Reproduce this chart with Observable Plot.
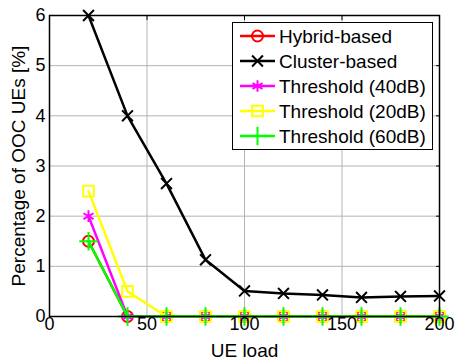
<!DOCTYPE html>
<html>
<head>
<meta charset="utf-8">
<script src="https://cdn.jsdelivr.net/npm/d3@7"></script>
<script src="https://cdn.jsdelivr.net/npm/@observablehq/plot@0.6"></script>
<style>
  body { margin: 0; background: #fff; }
  #wrap { position: relative; width: 455px; height: 360px; font-family: "Liberation Sans", Arial, sans-serif; }
  #legend { position: absolute; left: 232px; top: 22px; }
</style>
</head>
<body>
<div id="wrap"></div>
<script>
const ueLoad = [20, 40, 60, 80, 100, 120, 140, 160, 180, 200];
const hybrid = [1.5, 0, 0, 0, 0, 0, 0, 0, 0, 0];
const cluster = [6.0, 4.0, 2.65, 1.13, 0.51, 0.46, 0.43, 0.38, 0.40, 0.41];
const thr40 = [2.0, 0, 0, 0, 0, 0, 0, 0, 0, 0];
const thr20 = [2.5, 0.5, 0, 0, 0, 0, 0, 0, 0, 0];
const thr60 = [1.5, 0, 0, 0, 0, 0, 0, 0, 0, 0];
const xTicks = [0, 50, 100, 150, 200];
const yTicks = [0, 1, 2, 3, 4, 5, 6];

const seriesDefs = [
  {name: "Hybrid-based", values: hybrid, color: "#ff0000", symbol: "circle", r: 5.5},
  {name: "Cluster-based", values: cluster, color: "#000000", symbol: "times", r: 5},
  {name: "Threshold (40dB)", values: thr40, color: "#ff00ff", symbol: "asterisk", r: 5.5},
  {name: "Threshold (20dB)", values: thr20, color: "#ffff00", symbol: "square", r: 6},
  {name: "Threshold (60dB)", values: thr60, color: "#00ff00", symbol: "plus", r: 6}
];

const marks = [
  Plot.gridX(xTicks, {stroke: "#b4b4b4", strokeOpacity: 1, strokeWidth: 1}),
  Plot.gridY(yTicks, {stroke: "#b4b4b4", strokeOpacity: 1, strokeWidth: 1}),
];
for (const s of seriesDefs) {
  const data = ueLoad.map((x, i) => ({x, y: s.values[i]}));
  marks.push(Plot.line(data, {x: "x", y: "y", stroke: s.color, strokeWidth: 2.5}));
  marks.push(Plot.dot(data, {x: "x", y: "y", stroke: s.color, fill: "none", symbol: s.symbol, r: s.r, strokeWidth: 2}));
}
marks.push(
  Plot.frame({stroke: "#000", strokeWidth: 1.5}),
  Plot.axisX(xTicks, {anchor: "top", tickSize: -4, tickFormat: () => "", label: null, stroke: "#000"}),
  Plot.axisY(yTicks, {anchor: "right", tickSize: -4, tickFormat: () => "", label: null, stroke: "#000"}),
  Plot.axisX(xTicks, {tickSize: 0, tickPadding: 1, fontSize: 18, label: null, fill: "#000", tickFormat: d3.format("d")}),
  Plot.axisY(yTicks, {tickSize: 0, tickPadding: 4, fontSize: 18, label: null, fill: "#000", tickFormat: d3.format("d")}),
  Plot.text(["UE load"], {frameAnchor: "bottom", text: d => d, dy: 34, lineAnchor: "middle", textAnchor: "middle", fontSize: 19, fill: "#000"}),
  Plot.text(["Percentage of OOC UEs [%]"], {frameAnchor: "left", text: d => d, dx: -31, rotate: -90, textAnchor: "middle", lineAnchor: "middle", fontSize: 19, fill: "#000"})
);

const chart = Plot.plot({
  width: 455, height: 360,
  marginLeft: 49, marginRight: 16, marginTop: 15, marginBottom: 44,
  style: {fontFamily: "'Liberation Sans', Arial, sans-serif", background: "#fff", color: "#000", overflow: "visible"},
  x: {domain: [0, 200]},
  y: {domain: [0, 6]},
  marks
});
const wrap = document.getElementById("wrap");
wrap.appendChild(chart);

// Legend
const lw = 201, lh = 128;
const leg = d3.select(wrap).append("svg").attr("id", "legend")
  .attr("width", lw).attr("height", lh);
leg.append("rect").attr("x", 0.5).attr("y", 0.5).attr("width", lw - 1).attr("height", lh - 1)
  .attr("fill", "#fff").attr("stroke", "#000").attr("stroke-width", 1);
const symMap = {circle: d3.symbolCircle, times: d3.symbolTimes, asterisk: d3.symbolAsterisk, square: d3.symbolSquare, plus: d3.symbolPlus};
seriesDefs.forEach((s, i) => {
  const cy = 14 + i * 25;
  const g = leg.append("g");
  g.append("line").attr("x1", 8).attr("x2", 43).attr("y1", cy).attr("y2", cy)
    .attr("stroke", s.color).attr("stroke-width", 2.5);
  g.append("path").attr("transform", `translate(25.5,${cy})`)
    .attr("d", d3.symbol(symMap[s.symbol], Math.PI * s.r * s.r)())
    .attr("fill", "none").attr("stroke", s.color).attr("stroke-width", 2);
  g.append("text").attr("x", 47).attr("y", cy).attr("dy", "0.35em")
    .attr("font-size", 19).attr("font-family", "'Liberation Sans', Arial, sans-serif")
    .attr("fill", "#000").text(s.name);
});
</script>
</body>
</html>
